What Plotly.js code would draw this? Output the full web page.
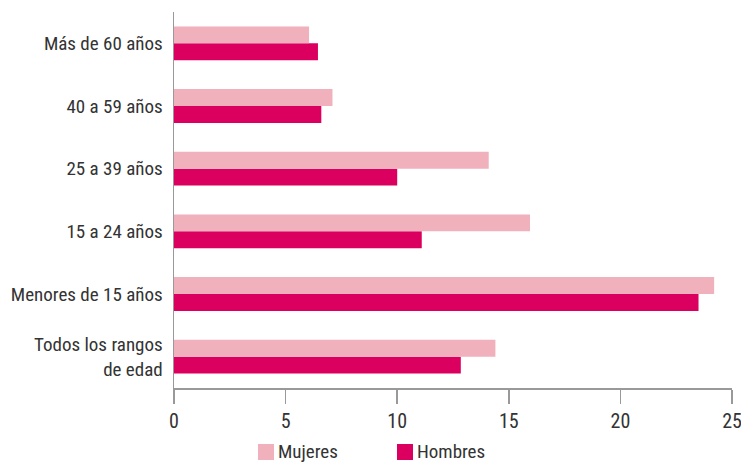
<!DOCTYPE html>
<html>
<head>
<meta charset="utf-8">
<script src="https://cdn.plot.ly/plotly-3.0.1.min.js"></script>
<style>html,body{margin:0;padding:0;background:#fff;}#chart{width:741px;height:466px;}</style>
</head>
<body>
<div id="chart"></div>
<script>
// Categories from bottom to top
var categories = ["Todos los rangos<br>de edad", "Menores de 15 años", "15 a 24 años", "25 a 39 años", "40 a 59 años", "Más de 60 años"];
var mujeres = [14.4, 24.2, 15.95, 14.1, 7.1, 6.05];
var hombres = [12.85, 23.5, 11.1, 10.0, 6.6, 6.45];
var xTicks = [0, 5, 10, 15, 20, 25];
var seriesNames = ["Mujeres", "Hombres"];
var seriesColors = ["#f0b0bc", "#db005f"];

var FONT = "'Roboto Condensed', 'Liberation Sans Narrow', 'Arial Narrow', Roboto, sans-serif";

var traces = [
  {type: 'bar', orientation: 'h', name: seriesNames[1], y: categories, x: hombres,
   marker: {color: seriesColors[1]}, hoverinfo: 'x'},
  {type: 'bar', orientation: 'h', name: seriesNames[0], y: categories, x: mujeres,
   marker: {color: seriesColors[0]}, hoverinfo: 'x'}
];

// Manual legend (paper coordinates) placed below the axis
var legendX = [0.1505, 0.3996];
var sqW = 0.0287;
var shapes = seriesNames.map(function (n, i) {
  return {type: 'rect', xref: 'paper', yref: 'paper',
    x0: legendX[i], x1: legendX[i] + sqW, y0: -0.1915, y1: -0.149,
    fillcolor: seriesColors[i], line: {width: 0}};
});
var annotations = seriesNames.map(function (n, i) {
  return {xref: 'paper', yref: 'paper', x: legendX[i] + sqW + 0.004, y: -0.1676,
    xanchor: 'left', yanchor: 'middle', text: n, showarrow: false,
    font: {family: FONT, size: 19, color: '#333'}};
});

var layout = {
  width: 741, height: 466,
  margin: {l: 174, r: 9, t: 12, b: 78},
  paper_bgcolor: '#fff', plot_bgcolor: '#fff',
  font: {family: FONT, size: 19, color: '#333'},
  barmode: 'group', bargap: 0.46, bargroupgap: 0,
  showlegend: false,
  xaxis: {
    range: [0, 25], tickvals: xTicks, ticktext: xTicks.map(String),
    showgrid: false, zeroline: false,
    showline: true, linecolor: '#999', linewidth: 1.5,
    ticks: 'outside', ticklen: 14, tickcolor: '#999', tickwidth: 1.5,
    ticklabelstandoff: 0, ticklabeloverflow: 'allow',
    tickfont: {family: FONT, size: 20, color: '#333'}
  },
  yaxis: {
    type: 'category', categoryorder: 'array', categoryarray: categories,
    range: [-0.5, 5.5],
    showgrid: false, zeroline: false,
    showline: true, linecolor: '#999', linewidth: 1.5,
    ticks: '', ticklabelstandoff: 6,
    tickfont: {family: FONT, size: 19, color: '#333'}
  },
  shapes: shapes,
  annotations: annotations
};

Plotly.newPlot('chart', traces, layout, {displayModeBar: false, staticPlot: true});
</script>
</body>
</html>
